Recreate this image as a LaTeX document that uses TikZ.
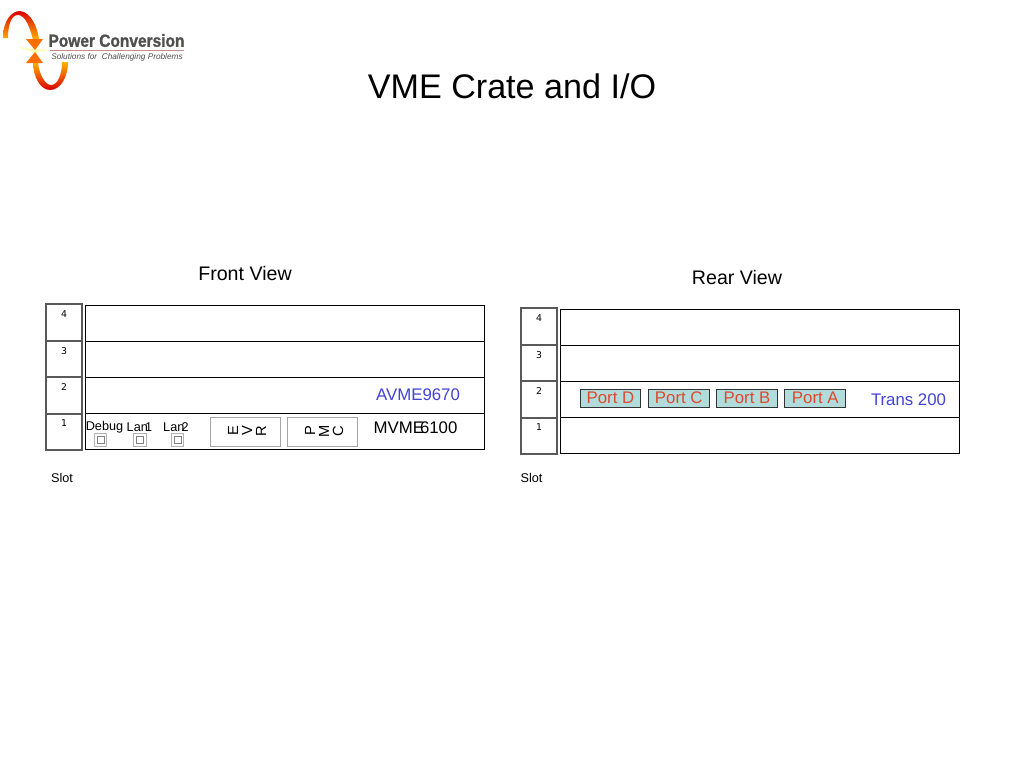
\documentclass[tikz,border=0pt]{standalone}
\usepackage{fontspec}
\setmainfont{Liberation Sans}
\newfontfamily\numfont{DejaVu Sans}
\newfontfamily\logofont[FakeBold=1.2,FakeStretch=0.88]{Liberation Sans Bold}
\usetikzlibrary{shapes,arrows}
\definecolor{portfill}{HTML}{B2DCDC}
\definecolor{porttext}{HTML}{E0482C}
\definecolor{boardblue}{HTML}{4242D6}
\definecolor{logogrey}{HTML}{50504F}
\begin{document}
\begin{tikzpicture}[x=0.75pt, y=-0.75pt, >=latex']
\tikzstyle{slotcell} = [draw=black!65, line width=1.2pt, rectangle, inner sep=0pt,
    minimum width=27pt, minimum height=27.375pt, node distance=27.375pt]
\tikzstyle{boardrow} = [draw=black, line width=0.75pt, rectangle, inner sep=0pt,
    minimum width=299.25pt, minimum height=27pt, node distance=27pt]
\tikzstyle{slotnum} = [font=\numfont\fontsize{7}{8}\selectfont, inner sep=0pt]
\tikzstyle{smalltext} = [font=\fontsize{9.5}{11}\selectfont, inner sep=0pt]
\tikzstyle{viewtitle} = [font=\fontsize{14.7}{17}\selectfont, inner sep=0pt]
\tikzstyle{boardtext} = [font=\fontsize{12.6}{15}\selectfont, inner sep=0pt]
\tikzstyle{bluetext} = [boardtext, text=boardblue]
\tikzstyle{mezzbox} = [draw=black!35, line width=0.6pt, rectangle, inner sep=0pt, align=center,
    minimum width=53pt, minimum height=21.75pt, font=\fontsize{11}{10.5}\selectfont]
\tikzstyle{jackbox} = [draw=black!30, line width=0.6pt, rectangle, inner sep=0pt,
    minimum size=9.5pt]
\tikzstyle{jackhole} = [draw=black!50, line width=0.4pt, rectangle, inner sep=0pt,
    minimum size=5pt]
\tikzstyle{portbox} = [draw=black!80, line width=0.75pt, fill=portfill, rectangle, inner sep=0pt,
    minimum width=45.5pt, minimum height=13.5pt, node distance=51.2pt, text=porttext,
    font=\fontsize{12.6}{15}\selectfont]
    \useasboundingbox (0,0) rectangle (1024,768);
    \fill [white] (0,0) rectangle (1024,768);

    % The logo is drawn directly, it has no connectors
    \shade [top color=red!85!black, bottom color=orange!60!yellow]
        (3,38) .. controls (3,20) and (12,11) .. (20,11)
        .. controls (31,12) and (38,28) .. (39,40)
        -- (33,40) .. controls (30,27) and (25,15) .. (18,15)
        .. controls (11,15) and (8,26) .. (8,38) -- cycle;
    \shade [top color=orange!60!yellow, bottom color=red!85!black]
        (68,62) .. controls (68,78) and (60,90) .. (50,90)
        .. controls (40,90) and (33,76) .. (33,62)
        -- (38,62) .. controls (39,74) and (45,85) .. (51,85)
        .. controls (58,85) and (62,74) .. (62,62) -- cycle;
    \fill [yellow!30] (18,47) -- (33,49) -- (35,44) -- (37,49) -- (50,50)
        -- (37,52) -- (35,58) -- (33,52) -- cycle;
    \fill [orange!85!red] (26,39) -- (43,39) -- (35,50) -- cycle;
    \fill [orange!85!red] (26,63) -- (43,63) -- (35,52) -- cycle;
    \node [font=\logofont\fontsize{13.2}{15}\selectfont, text=logogrey, inner sep=0pt]
        (logoname) at (116.5,40.5) {Power Conversion};
    \draw [red!50!black!45, line width=0.75pt] (50,50.5) -- (183.5,50.5);
    \node [font=\itshape\fontsize{6.2}{7}\selectfont, text=logogrey, inner sep=0pt]
        (logotag) at (117,57) {Solutions for\ \ Challenging Problems};

    % Titles
    \node [font=\fontsize{25.6}{30}\selectfont, inner sep=0pt] (title) at (512,86) {VME Crate and I/O};
    \node [viewtitle] (frontview) at (245,273.5) {Front View};
    \node [viewtitle] (rearview) at (737,277) {Rear View};

    % We start by placing the slot columns and the rows
    \node [slotcell] (fslot4) at (64,322.5) {};
    \node [slotcell, below of=fslot4] (fslot3) {};
    \node [slotcell, below of=fslot3] (fslot2) {};
    \node [slotcell, below of=fslot2] (fslot1) {};
    \node [slotcell] (rslot4) at (539,326.5) {};
    \node [slotcell, below of=rslot4] (rslot3) {};
    \node [slotcell, below of=rslot3] (rslot2) {};
    \node [slotcell, below of=rslot2] (rslot1) {};
    \node [boardrow] (frow4) at (284.5,323) {};
    \node [boardrow, below of=frow4] (frow3) {};
    \node [boardrow, below of=frow3] (frow2) {};
    \node [boardrow, below of=frow2] (frow1) {};
    \node [boardrow] (rrow4) at (759.5,327) {};
    \node [boardrow, below of=rrow4] (rrow3) {};
    \node [boardrow, below of=rrow3] (rrow2) {};
    \node [boardrow, below of=rrow2] (rrow1) {};
    % The numbers sit near the top of each slot
    \foreach \n in {1,...,4} {
        \node [slotnum, anchor=north, yshift=-5.2pt] (fnum\n) at (fslot\n.north) {\n};
        \node [slotnum, anchor=north, yshift=-5.2pt] (rnum\n) at (rslot\n.north) {\n};
    }
    \node [smalltext] (fslotname) at (62,477.5) {Slot};
    \node [smalltext] (rslotname) at (531.5,477.5) {Slot};

    % Front board
    \node [bluetext] (avme) at (418,395) {AVME9670};
    \node [boardtext] (mvme) at (415.5,428) {MVME\kern-3pt 6100};
    \node [mezzbox] (evr) at (245.5,431.5) {\raisebox{0.8pt}{\rotatebox{90}{\parbox{21pt}{\centering E\\V\\R}}}\kern-2.5pt};
    \node [mezzbox] (pmc) at (322.5,431.5) {\raisebox{0.8pt}{\rotatebox{90}{\parbox{21pt}{\centering P\\M\\C}}}\kern-2.5pt};
    \node [jackbox] (debugjack) at (100.5,440) {};
    \node [jackbox] (lanonejack) at (140,440) {};
    \node [jackbox] (lantwojack) at (177.5,440) {};
    \node [jackhole] at (debugjack) {};
    \node [jackhole] at (lanonejack) {};
    \node [jackhole] at (lantwojack) {};
    \node [smalltext] (debug) at (104.5,427) {Debug};
    \node [smalltext] (lanone) at (139.5,427) {Lan\kern-2pt 1};
    \node [smalltext] (lantwo) at (176,427) {Lan\kern-2pt 2};

    % Rear board
    \node [portbox] (portd) at (610.5,398) {Port D};
    \node [portbox, right of=portd] (portc) {Port C};
    \node [portbox, right of=portc] (portb) {Port B};
    \node [portbox, right of=portb] (porta) {Port A};
    \node [bluetext] (trans) at (908.5,400) {Trans 200};
\end{tikzpicture}
\end{document}
